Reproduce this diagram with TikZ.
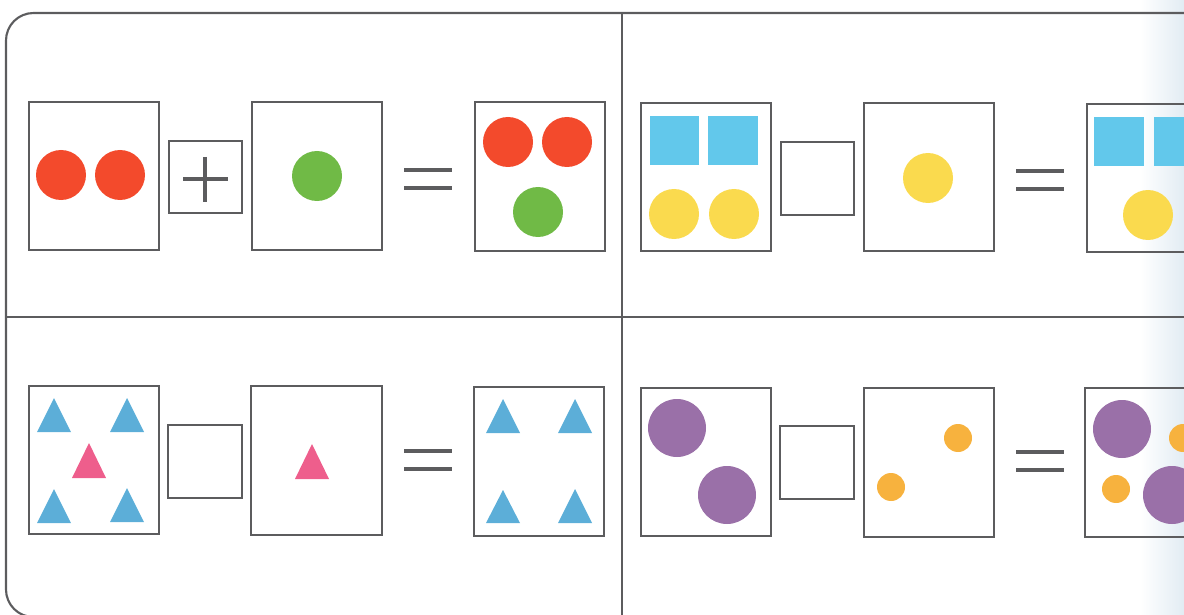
\documentclass[tikz,border=0pt]{standalone}
\usepackage{tikz}

\definecolor{linegray}{RGB}{92,92,94}
\definecolor{edgetint}{RGB}{226,236,243}
\definecolor{dotred}{RGB}{243,74,44}
\definecolor{dotgreen}{RGB}{112,186,70}
\definecolor{sqblue}{RGB}{98,200,235}
\definecolor{dotyellow}{RGB}{250,218,78}
\definecolor{triblue}{RGB}{92,174,216}
\definecolor{tripink}{RGB}{238,94,140}
\definecolor{dotpurple}{RGB}{154,112,168}
\definecolor{dotorange}{RGB}{247,178,62}

\begin{document}
\begin{tikzpicture}[x=0.02cm,y=-0.02cm,
  boardline/.style={draw=linegray, line width=1.2pt},
  cell/.style={draw=linegray, line width=1.3pt},
  bar/.style={draw=linegray, line width=2.8pt},
  plusbar/.style={draw=linegray, line width=2.2pt}]

\useasboundingbox (0,0) rectangle (1184,615);
\clip (0,0) rectangle (1184,615);

\shade[left color=white, right color=edgetint] (1140,0) rectangle (1184,615);

%%%%% board
\draw[boardline, rounded corners=0.55cm] (1230,13) -- (6,13) -- (6,617) -- (1230,617);
\draw[boardline] (622,13) -- (622,615); \draw[boardline] (6,317) -- (1184,317);


%%%%% First row, left
\draw[cell] (29,102) rectangle (159,250); \draw[cell] (169,141) rectangle (242,213); \draw[cell] (252,102) rectangle (382,250); \draw[cell] (475,102) rectangle (605,251);

\fill[dotred] (61,175) circle [radius=25]; \fill[dotred] (120,175) circle [radius=25];
\fill[dotgreen] (317,176) circle [radius=25];
\fill[dotred] (508,142) circle [radius=25]; \fill[dotred] (567,142) circle [radius=25]; \fill[dotgreen] (538,212) circle [radius=25];

\draw[plusbar] (183,179) -- (228,179); \draw[plusbar] (205,157) -- (205,202);
\draw[bar] (404,170) -- (452,170); \draw[bar] (404,188) -- (452,188);


%%%%% First row, right
\draw[cell] (641,103) rectangle (771,251); \draw[cell] (781,142) rectangle (854,215); \draw[cell] (864,103) rectangle (994,251); \draw[cell] (1087,104) rectangle (1217,252);

\fill[sqblue] (650,116) rectangle (699,165); \fill[sqblue] (708,116) rectangle (758,165);
\fill[dotyellow] (674,214) circle [radius=25]; \fill[dotyellow] (734,214) circle [radius=25];
\fill[dotyellow] (928,178) circle [radius=25];
\fill[sqblue] (1094,117) rectangle (1144,166); \fill[sqblue] (1154,117) rectangle (1203,166);
\fill[dotyellow] (1148,215) circle [radius=25];

\draw[bar] (1016,171) -- (1064,171); \draw[bar] (1016,189) -- (1064,189);


%%%%% Second row, left
\draw[cell] (29,386) rectangle (159,534); \draw[cell] (168,425) rectangle (242,498); \draw[cell] (251,386) rectangle (382,535); \draw[cell] (474,387) rectangle (604,536);

\fill[triblue] (54,398) -- (37,432) -- (71,432) -- cycle; \fill[triblue] (127,398) -- (110,432) -- (144,432) -- cycle;
\fill[tripink] (89,443) -- (72,478) -- (106,478) -- cycle;
\fill[triblue] (54,489) -- (37,523) -- (71,523) -- cycle; \fill[triblue] (127,488) -- (110,522) -- (144,522) -- cycle;
\fill[tripink] (312,444) -- (295,479) -- (329,479) -- cycle;
\fill[triblue] (503,399) -- (486,433) -- (520,433) -- cycle; \fill[triblue] (575,399) -- (558,433) -- (592,433) -- cycle;
\fill[triblue] (503,490) -- (486,523) -- (520,523) -- cycle; \fill[triblue] (575,489) -- (558,523) -- (592,523) -- cycle;

\draw[bar] (404,451) -- (452,451); \draw[bar] (404,469) -- (452,469);


%%%%% Second row, right
\draw[cell] (641,388) rectangle (771,536); \draw[cell] (780,426) rectangle (854,499); \draw[cell] (864,388) rectangle (994,537); \draw[cell] (1085,388) rectangle (1216,537);

\fill[dotpurple] (677,428) circle [radius=29]; \fill[dotpurple] (727,495) circle [radius=29];
\fill[dotorange] (958,438) circle [radius=14]; \fill[dotorange] (891,487) circle [radius=14];
\fill[dotpurple] (1122,429) circle [radius=29]; \fill[dotorange] (1183,438) circle [radius=14];
\fill[dotorange] (1116,489) circle [radius=14]; \fill[dotpurple] (1172,495) circle [radius=29];

\draw[bar] (1016,452) -- (1064,452); \draw[bar] (1016,470) -- (1064,470);

\end{tikzpicture}
\end{document}
